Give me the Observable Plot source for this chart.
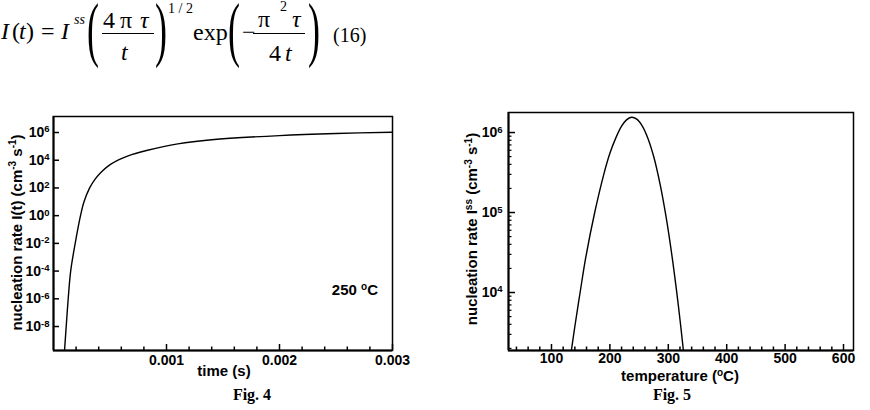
<!DOCTYPE html>
<html><head><meta charset="utf-8">
<script src="https://cdn.jsdelivr.net/npm/d3@7"></script>
<script src="https://cdn.jsdelivr.net/npm/@observablehq/plot@0.6"></script>
<style>
html,body{margin:0;padding:0;background:#fff;}
#wrap{position:relative;width:870px;height:410px;overflow:hidden;background:#fff;}
#fig4,#fig5,#overlay{position:absolute;}
#fig4{left:0;top:100px;}
#fig5{left:440px;top:100px;}
#overlay{left:0;top:0;pointer-events:none;}
</style></head>
<body><div id="wrap"><div id="fig4"></div><div id="fig5"></div>
<svg id="overlay" width="870" height="410" xmlns="http://www.w3.org/2000/svg"></svg></div>
<script>
// ---- Fig. 4 data: nucleation rate I(t) vs time at 250 °C ----
const fig4Time = [0.0000975, 0.0001124, 0.0001301, 0.000152, 0.000192, 0.000239, 0.000270, 0.000320, 0.000370, 0.000430, 0.000504, 0.000580, 0.000655, 0.000832, 0.00110, 0.00140, 0.00200, 0.00250, 0.00300];
const fig4Rate = [1.8e-10, 1e-8, 1e-6, 1e-4, 1e-2, 1, 10, 1e2, 4.5e2, 1.6e3, 5.0e3, 1.12e4, 2.0e4, 5.2e4, 1.51e5, 3.0e5, 6.0e5, 8.5e5, 1.05e6];
const fig4XTicks = [0.001, 0.002, 0.003];
const fig4XMinor = [0.0002, 0.0004, 0.0006, 0.0008, 0.0012, 0.0014, 0.0016, 0.0018, 0.0022, 0.0024, 0.0026, 0.0028];
const fig4YTicks = [1e-8, 1e-6, 1e-4, 1e-2, 1, 1e2, 1e4, 1e6];

// ---- Fig. 5 data: steady-state nucleation rate vs temperature ----
const fig5Temp = [134, 140, 149, 159, 174, 190, 200, 210, 220, 228, 237, 246, 255, 265, 275, 286, 296, 306, 314, 320, 326];
const fig5Rate = [1.88e3, 3.76e3, 1.0e4, 2.82e4, 1.0e5, 3.09e5, 5.5e5, 8.51e5, 1.20e6, 1.43e6, 1.55e6, 1.47e6, 1.22e6, 8.51e5, 5.01e5, 2.25e5, 9.0e4, 2.98e4, 1.07e4, 4.6e3, 1.84e3];
const fig5XTicks = [100, 200, 300, 400, 500, 600];
const fig5XMinor = [40, 60, 80, 120, 140, 160, 180, 220, 240, 260, 280, 320, 340, 360, 380, 420, 440, 460, 480, 520, 540, 560, 580];
const fig5YTicks = [1e4, 1e5, 1e6];
const fig5YMinor = [2e3, 3e3, 4e3, 5e3, 6e3, 7e3, 8e3, 9e3, 2e4, 3e4, 4e4, 5e4, 6e4, 7e4, 8e4, 9e4, 2e5, 3e5, 4e5, 5e5, 6e5, 7e5, 8e5, 9e5];

const SANS = "'Liberation Sans', Arial, Helvetica, sans-serif";
const SERIF = "'Liberation Serif', 'Times New Roman', serif";
const NS = "http://www.w3.org/2000/svg";

const fig4Data = fig4Time.map((t, i) => ({t, r: fig4Rate[i]}));
const fig5Data = fig5Temp.map((T, i) => ({T, r: fig5Rate[i]}));

function sup(svg) {
  svg.querySelectorAll('g[aria-label="y-axis tick label"] text').forEach(t => {
    const m = /^10\^(-?\d+)$/.exec(t.textContent.trim());
    if (!m) return;
    while (t.firstChild) t.removeChild(t.firstChild);
    const a = document.createElementNS(NS, "tspan"); a.textContent = "10";
    const b = document.createElementNS(NS, "tspan"); b.textContent = m[1];
    b.setAttribute("dy", "-4.5"); b.setAttribute("font-size", "9.5");
    t.append(a, b);
  });
}

const common = {
  style: {fontFamily: SANS, fontSize: "14px", fontWeight: "bold", color: "#000", background: "transparent", overflow: "visible"}
};

// Fig. 4
const W4 = 440, H4 = 300, mL4 = 53, mR4 = 48, mT4 = 16, mB4 = 50;
const fh4 = H4 - mT4 - mB4, fw4 = W4 - mL4 - mR4;
const p4 = Plot.plot({
  ...common, width: W4, height: H4, marginLeft: mL4, marginRight: mR4, marginTop: mT4, marginBottom: mB4,
  x: {type: "linear", domain: [0, 0.003]},
  y: {type: "log", domain: [1.86e-10, 1.43e7]},
  marks: [
    Plot.frame({stroke: "#000", strokeWidth: 1.5}),
    Plot.ruleX([0], {stroke: "#000", strokeWidth: 2}),
    Plot.ruleY([1.86e-10], {stroke: "#000", strokeWidth: 2}),
    Plot.tickX(fig4XTicks, {x: d => d, insetTop: fh4 - 6, stroke: "#000", strokeWidth: 1.5}),
    Plot.tickX(fig4XMinor, {x: d => d, insetTop: fh4 - 3.5, stroke: "#000", strokeWidth: 1.5}),
    Plot.tickY(fig4YTicks, {y: d => d, insetRight: fw4 - 6, stroke: "#000", strokeWidth: 1.5}),
    Plot.axisX(fig4XTicks, {tickSize: 0, tickPadding: 5, tickFormat: d => d.toFixed(3), label: null, fontSize: 14, fontWeight: "bold"}),
    Plot.axisY(fig4YTicks, {tickSize: 0, tickPadding: 4, tickFormat: d => "10^" + Math.round(Math.log10(d)), label: null, fontSize: 14, fontWeight: "bold"}),
    Plot.line(fig4Data, {x: "t", y: "r", stroke: "#000", strokeWidth: 1.4, curve: "catmull-rom", clip: true})
  ]
});
sup(p4);
document.getElementById("fig4").append(p4);

// Fig. 5
const W5 = 430, H5 = 300, mL5 = 68, mR5 = 17, mT5 = 12, mB5 = 50;
const fh5 = H5 - mT5 - mB5, fw5 = W5 - mL5 - mR5;
const p5 = Plot.plot({
  ...common, width: W5, height: H5, marginLeft: mL5, marginRight: mR5, marginTop: mT5, marginBottom: mB5,
  x: {type: "linear", domain: [26.4, 617.1]},
  y: {type: "log", domain: [1884, 1.78e6]},
  marks: [
    Plot.frame({stroke: "#000", strokeWidth: 1.5}),
    Plot.ruleX([26.4], {stroke: "#000", strokeWidth: 2}),
    Plot.ruleY([1884], {stroke: "#000", strokeWidth: 2}),
    Plot.tickX(fig5XTicks, {x: d => d, insetTop: fh5 - 6, stroke: "#000", strokeWidth: 1.5}),
    Plot.tickX(fig5XMinor, {x: d => d, insetTop: fh5 - 3.5, stroke: "#000", strokeWidth: 1.5}),
    Plot.tickY(fig5YTicks, {y: d => d, insetRight: fw5 - 7, stroke: "#000", strokeWidth: 1.5}),
    Plot.tickY(fig5YMinor, {y: d => d, insetRight: fw5 - 3.5, stroke: "#000", strokeWidth: 1.2}),
    Plot.axisX(fig5XTicks, {tickSize: 0, tickPadding: 3, tickFormat: d => String(d), label: null, fontSize: 14, fontWeight: "bold"}),
    Plot.axisY(fig5YTicks, {tickSize: 0, tickPadding: 6, tickFormat: d => "10^" + Math.round(Math.log10(d)), label: null, fontSize: 14, fontWeight: "bold"}),
    Plot.line(fig5Data, {x: "T", y: "r", stroke: "#000", strokeWidth: 1.4, curve: "catmull-rom", clip: true})
  ]
});
sup(p5);
document.getElementById("fig5").append(p5);

// Overlay: equation, axis titles, notes, captions
const ov = document.getElementById("overlay");
const bigParen = (ch, x) => `<text transform="translate(${x},53) scale(0.5,1)" font-size="72">${ch}</text>`;
ov.innerHTML = `
<g font-family="${SERIF}" font-size="24" fill="#000">
  <text x="1" y="39" font-style="italic">I</text>
  <text x="12" y="39">(</text><text x="19" y="39" font-style="italic">t</text><text x="26" y="39">)</text>
  <text x="41" y="39">=</text>
  <text x="61" y="39" font-style="italic">I</text>
  <text x="74" y="24" font-size="14" font-style="italic">ss</text>
  ${bigParen("(", 87)}
  <text x="103" y="28">4</text><text x="120" y="28">π</text><text x="140" y="28" font-style="italic">τ</text>
  <line x1="102" x2="154" y1="33.5" y2="33.5" stroke="#000" stroke-width="1.2"/>
  <text x="121" y="60" font-style="italic">t</text>
  ${bigParen(")", 155)}
  <text x="168" y="13" font-size="14">1 / 2</text>
  <text x="193" y="40">exp</text>
  ${bigParen("(", 228)}
  <text x="242" y="40">−</text>
  <text x="258" y="27">π</text><text x="280" y="11" font-size="14">2</text><text x="292" y="27" font-style="italic">τ</text>
  <line x1="253" x2="305" y1="33.5" y2="33.5" stroke="#000" stroke-width="1.2"/>
  <text x="269" y="61">4</text><text x="285" y="61" font-style="italic">t</text>
  ${bigParen(")", 308)}
  <text x="333" y="42" font-size="20">(16)</text>
</g>
<g font-family="${SANS}" font-weight="bold" font-size="15" fill="#000" style="white-space:pre">
  <text transform="translate(21.5,232.5) rotate(-90)" text-anchor="middle">nucleation rate I(t) (cm<tspan dy="-5.5" font-size="10">-3</tspan><tspan dy="5.5"> s</tspan><tspan dy="-5.5" font-size="10">-1</tspan><tspan dy="5.5">)</tspan></text>
  <text x="224" y="376" text-anchor="middle">time (s)</text>
  <text x="378" y="295" text-anchor="end">250 <tspan dy="-5.5" font-size="10">o</tspan><tspan dy="5.5">C</tspan></text>
  <text transform="translate(477,229) rotate(-90)" text-anchor="middle">nucleation rate  I<tspan dy="-5.5" font-size="10">ss</tspan><tspan dy="5.5"> (cm</tspan><tspan dy="-5.5" font-size="10">-3</tspan><tspan dy="5.5"> s</tspan><tspan dy="-5.5" font-size="10">-1</tspan><tspan dy="5.5">)</tspan></text>
  <text x="680" y="381" text-anchor="middle">temperature (<tspan dy="-5.5" font-size="10">o</tspan><tspan dy="5.5">C)</tspan></text>
</g>
<g font-family="${SERIF}" font-weight="bold" font-size="16" fill="#000">
  <text x="252" y="400" text-anchor="middle">Fig. 4</text>
  <text x="672" y="400" text-anchor="middle">Fig. 5</text>
</g>`;
</script>
</body></html>
